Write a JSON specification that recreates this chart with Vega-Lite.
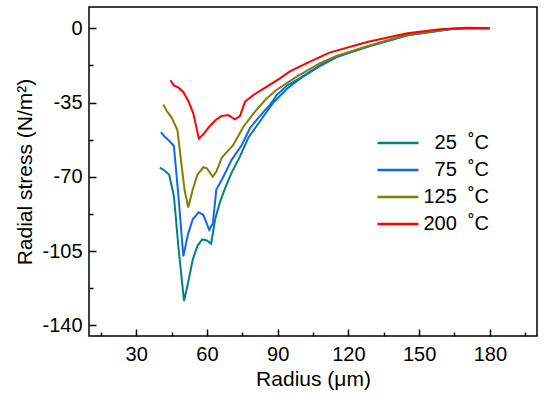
{
  "$schema": "https://vega.github.io/schema/vega-lite/v6.json",
  "width": 448,
  "height": 329,
  "autosize": {"type": "none"},
  "padding": {"left": 89, "top": 7, "right": 13, "bottom": 62},
  "config": {
    "view": {"stroke": "black", "strokeWidth": 1.5},
    "axis": {"grid": false, "domain": false, "labelColor": "black", "titleColor": "black", "tickColor": "black", "labelFont": "Liberation Sans", "titleFont": "Liberation Sans", "titleFontWeight": "normal"},
    "legend": {"labelFont": "Liberation Sans"}
  },
  "data": {"values": [
    {"r": 40, "s": -65.7, "T": "25"}, {"r": 42, "s": -67, "T": "25"}, {"r": 44, "s": -69, "T": "25"}, {"r": 46, "s": -79, "T": "25"}, {"r": 48, "s": -104, "T": "25"}, {"r": 50.3, "s": -128.5, "T": "25"}, {"r": 52, "s": -120, "T": "25"}, {"r": 54, "s": -109, "T": "25"}, {"r": 56, "s": -102.5, "T": "25"}, {"r": 58, "s": -99.5, "T": "25"}, {"r": 60, "s": -100, "T": "25"}, {"r": 61.8, "s": -101.5, "T": "25"}, {"r": 63.5, "s": -90, "T": "25"}, {"r": 65.5, "s": -82, "T": "25"}, {"r": 67.7, "s": -75.5, "T": "25"}, {"r": 70.5, "s": -68, "T": "25"}, {"r": 74, "s": -60.5, "T": "25"}, {"r": 77.6, "s": -51.5, "T": "25"}, {"r": 81.8, "s": -45, "T": "25"}, {"r": 88.2, "s": -35, "T": "25"}, {"r": 94, "s": -28.5, "T": "25"}, {"r": 99.5, "s": -23.8, "T": "25"}, {"r": 108, "s": -17.8, "T": "25"}, {"r": 115, "s": -13.6, "T": "25"}, {"r": 128, "s": -8.8, "T": "25"}, {"r": 145, "s": -3.3, "T": "25"}, {"r": 163, "s": -0.5, "T": "25"}, {"r": 170, "s": 0, "T": "25"}, {"r": 180, "s": 0, "T": "25"},
    {"r": 40.5, "s": -49, "T": "75"}, {"r": 42, "s": -51, "T": "75"}, {"r": 44, "s": -53, "T": "75"}, {"r": 46, "s": -55.5, "T": "75"}, {"r": 48, "s": -80, "T": "75"}, {"r": 50, "s": -107.5, "T": "75"}, {"r": 52, "s": -97, "T": "75"}, {"r": 54, "s": -90, "T": "75"}, {"r": 56.5, "s": -86.7, "T": "75"}, {"r": 58.5, "s": -88, "T": "75"}, {"r": 61, "s": -95, "T": "75"}, {"r": 62.5, "s": -92, "T": "75"}, {"r": 64, "s": -76, "T": "75"}, {"r": 66.5, "s": -71, "T": "75"}, {"r": 70.5, "s": -62, "T": "75"}, {"r": 74.8, "s": -55, "T": "75"}, {"r": 78.3, "s": -47, "T": "75"}, {"r": 82, "s": -42, "T": "75"}, {"r": 86.8, "s": -36, "T": "75"}, {"r": 89.6, "s": -31.5, "T": "75"}, {"r": 94, "s": -27, "T": "75"}, {"r": 99.5, "s": -23.5, "T": "75"}, {"r": 108, "s": -17.5, "T": "75"}, {"r": 115, "s": -13.5, "T": "75"}, {"r": 128, "s": -8.8, "T": "75"}, {"r": 145, "s": -3.3, "T": "75"}, {"r": 163, "s": -0.5, "T": "75"}, {"r": 170, "s": 0, "T": "75"}, {"r": 180, "s": 0, "T": "75"},
    {"r": 41.5, "s": -36, "T": "125"}, {"r": 43, "s": -39, "T": "125"}, {"r": 45, "s": -42, "T": "125"}, {"r": 47.5, "s": -48, "T": "125"}, {"r": 49, "s": -62, "T": "125"}, {"r": 50.5, "s": -76, "T": "125"}, {"r": 52.1, "s": -84.5, "T": "125"}, {"r": 54, "s": -76, "T": "125"}, {"r": 56, "s": -69, "T": "125"}, {"r": 58.5, "s": -65.5, "T": "125"}, {"r": 60, "s": -66, "T": "125"}, {"r": 62.5, "s": -70, "T": "125"}, {"r": 64, "s": -67.5, "T": "125"}, {"r": 66.3, "s": -61, "T": "125"}, {"r": 71.2, "s": -55, "T": "125"}, {"r": 75.4, "s": -46.5, "T": "125"}, {"r": 80.4, "s": -39.3, "T": "125"}, {"r": 85, "s": -33.5, "T": "125"}, {"r": 89.6, "s": -29, "T": "125"}, {"r": 98.1, "s": -22.8, "T": "125"}, {"r": 108, "s": -16.5, "T": "125"}, {"r": 115, "s": -13, "T": "125"}, {"r": 128, "s": -8.5, "T": "125"}, {"r": 145, "s": -3, "T": "125"}, {"r": 163, "s": -0.4, "T": "125"}, {"r": 170, "s": 0, "T": "125"}, {"r": 180, "s": 0, "T": "125"},
    {"r": 44.5, "s": -24.5, "T": "200"}, {"r": 46, "s": -27, "T": "200"}, {"r": 48, "s": -28, "T": "200"}, {"r": 50, "s": -30, "T": "200"}, {"r": 52, "s": -34, "T": "200"}, {"r": 54.2, "s": -40, "T": "200"}, {"r": 56.6, "s": -52, "T": "200"}, {"r": 58.5, "s": -50, "T": "200"}, {"r": 61, "s": -46.4, "T": "200"}, {"r": 63.5, "s": -43.5, "T": "200"}, {"r": 66, "s": -41.4, "T": "200"}, {"r": 69, "s": -40.9, "T": "200"}, {"r": 71.9, "s": -42.9, "T": "200"}, {"r": 74, "s": -41.4, "T": "200"}, {"r": 76.2, "s": -34.6, "T": "200"}, {"r": 79.7, "s": -31.5, "T": "200"}, {"r": 85.4, "s": -27.5, "T": "200"}, {"r": 91, "s": -23.6, "T": "200"}, {"r": 95.2, "s": -20.3, "T": "200"}, {"r": 103.7, "s": -15.7, "T": "200"}, {"r": 112, "s": -11.5, "T": "200"}, {"r": 128, "s": -6.5, "T": "200"}, {"r": 145, "s": -2.4, "T": "200"}, {"r": 159, "s": -0.5, "T": "200"}, {"r": 170, "s": 0.2, "T": "200"}, {"r": 180, "s": 0, "T": "200"}
  ]},
  "layer": [
    {
      "mark": {"type": "line", "strokeWidth": 2},
      "encoding": {
        "x": {"field": "r", "type": "quantitative", "scale": {"domain": [10, 200], "nice": false, "zero": false},
          "axis": {"orient": "bottom", "values": [30, 60, 90, 120, 150, 180], "ticks": false, "labelPadding": 8, "labelFontSize": 20, "title": "Radius (μm)", "titleFontSize": 21, "titlePadding": 4}},
        "y": {"field": "s", "type": "quantitative", "scale": {"domain": [-145, 10], "nice": false, "zero": false},
          "axis": {"orient": "left", "values": [0, -35, -70, -105, -140], "ticks": false, "labelPadding": 7, "labelFontSize": 20, "labelExpr": "toString(datum.value)", "title": "Radial stress (N/m²)", "titleFontSize": 21, "titlePadding": 6}},
        "color": {"field": "T", "type": "nominal",
          "scale": {"domain": ["25", "75", "125", "200"], "range": ["#008080", "#1466f0", "#808000", "#ff0000"]},
          "legend": {"title": null, "orient": "none", "legendX": 299, "legendY": 126, "symbolType": "M-4.1,0H4.1", "symbolSize": 100, "symbolStrokeWidth": 2.5, "labelFontSize": 20, "labelAlign": "right", "labelOffset": 81, "rowPadding": 7, "labelColor": "black",
            "labelExpr": "datum.label + '\u00a0 ˚C'"}},
        "order": {"field": "r", "type": "quantitative"}
      }
    },
    {
      "mark": {"type": "line", "opacity": 0},
      "encoding": {
        "x": {"field": "r", "type": "quantitative",
          "axis": {"orient": "bottom", "values": [15, 30, 45, 60, 75, 90, 105, 120, 135, 150, 165, 180, 195], "labels": false, "title": null, "tickWidth": 1.5,
            "tickSize": {"condition": {"test": "datum.value % 30 === 0", "value": -7}, "value": -4}}},
        "y": {"field": "s", "type": "quantitative",
          "axis": {"orient": "left", "values": [0, -17.5, -35, -52.5, -70, -87.5, -105, -122.5, -140], "labels": false, "title": null, "tickWidth": 1.5,
            "tickSize": {"condition": {"test": "datum.value % 35 === 0", "value": -7}, "value": -4}}},
        "detail": {"field": "T"}
      }
    }
  ],
  "resolve": {"axis": {"x": "independent", "y": "independent"}}
}
